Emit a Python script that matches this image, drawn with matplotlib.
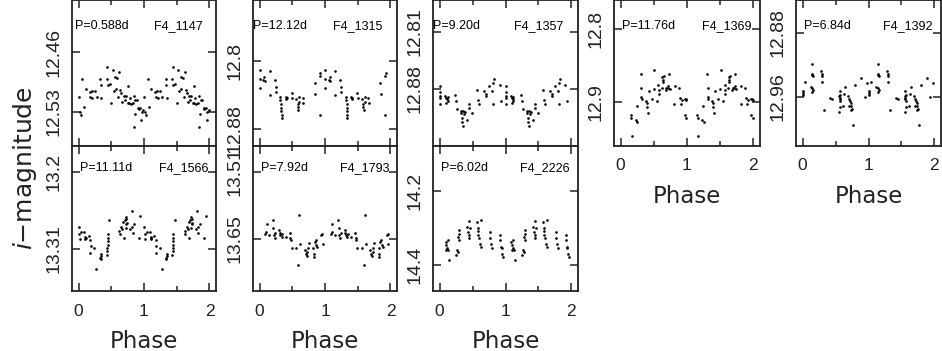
import matplotlib
matplotlib.use('Agg')
import matplotlib.pyplot as plt
from matplotlib import font_manager
import numpy as np

## phase-folded light curves, one period shown (0-1), drawn twice (0-2)
ph_1147 = [0.00,0.02,0.03,0.06,0.08,0.11,0.17,0.18,0.20,0.21,0.25,0.28,0.33,0.34,0.35,0.43,0.44,0.45,0.48,0.50,
           0.52,0.54,0.56,0.57,0.59,0.61,0.62,0.64,0.65,0.67,0.69,0.71,0.72,0.75,0.76,0.77,0.78,0.80,0.83,0.84,
           0.84,0.86,0.87,0.89,0.91,0.92,0.94,0.96,0.97,0.99]
mg_1147 = [12.513,12.530,12.534,12.492,12.524,12.503,12.507,12.513,12.505,12.514,12.505,12.513,12.491,12.499,12.514,
           12.492,12.478,12.499,12.497,12.520,12.481,12.506,12.489,12.503,12.490,12.513,12.483,12.504,12.508,12.518,
           12.511,12.516,12.511,12.520,12.500,12.520,12.514,12.521,12.520,12.511,12.548,12.532,12.516,12.516,12.525,
           12.527,12.526,12.540,12.530,12.528]

ph_1315 = [0.00,0.00,0.00,0.06,0.07,0.08,0.16,0.16,0.23,0.25,0.25,0.32,0.32,0.33,0.33,0.33,0.34,0.34,
           0.40,0.41,0.42,0.49,0.50,0.56,0.58,0.58,0.59,0.61,0.61,0.66,0.67,0.84,0.85,0.92,0.93,0.92]
mg_1315 = [12.811,12.821,12.832,12.822,12.819,12.824,12.812,12.840,12.822,12.831,12.836,12.842,12.846,12.850,12.855,
           12.859,12.863,12.867,12.842,12.845,12.843,12.838,12.843,12.845,12.850,12.854,12.857,12.848,12.842,12.844,
           12.849,12.826,12.839,12.818,12.814,12.863]

ph_1357 = [0.00,0.00,0.01,0.01,0.00,0.08,0.10,0.11,0.12,0.10,0.12,0.24,0.25,0.26,0.32,0.33,0.34,0.34,0.35,0.36,
           0.37,0.38,0.42,0.44,0.45,0.49,0.57,0.59,0.60,0.68,0.70,0.71,0.75,0.80,0.81,0.83,0.81,0.91,0.93]
mg_1357 = [12.884,12.891,12.877,12.889,12.899,12.889,12.891,12.892,12.890,12.897,12.895,12.888,12.895,12.905,12.907,
           12.910,12.916,12.920,12.926,12.907,12.911,12.908,12.918,12.903,12.899,12.909,12.881,12.893,12.899,12.883,
           12.886,12.889,12.877,12.883,12.873,12.868,12.898,12.875,12.895]

ph_1369 = [0.15,0.16,0.17,0.23,0.25,0.24,0.30,0.31,0.31,0.32,0.38,0.39,0.39,0.41,0.42,0.47,0.51,0.50,0.55,0.57,
           0.58,0.58,0.62,0.63,0.64,0.64,0.65,0.68,0.69,0.71,0.72,0.73,0.74,0.82,0.81,0.88,0.89,0.91,0.92,0.97,
           0.98,0.99,0.97,0.99]
mg_1369 = [12.917,12.921,12.946,12.924,12.927,12.905,12.861,12.880,12.893,12.896,12.898,12.901,12.907,12.915,12.884,
           12.896,12.856,12.882,12.898,12.876,12.883,12.889,12.880,12.865,12.869,12.872,12.864,12.883,12.881,12.880,
           12.878,12.862,12.882,12.878,12.903,12.880,12.894,12.903,12.897,12.895,12.896,12.897,12.917,12.922]

ph_1392 = [0.00,0.01,0.00,0.04,0.14,0.14,0.15,0.16,0.12,0.14,0.15,0.16,0.28,0.29,0.30,0.29,0.32,0.42,0.45,0.55,
           0.56,0.56,0.57,0.56,0.57,0.55,0.57,0.64,0.63,0.62,0.69,0.70,0.72,0.73,0.74,0.75,0.70,0.74,0.77,0.79,
           0.88,0.94,0.98]
mg_1392 = [12.952,12.955,12.957,12.941,12.919,12.932,12.931,12.934,12.948,12.949,12.954,12.951,12.928,12.931,12.934,
           12.941,12.976,12.961,12.962,12.959,12.961,12.963,12.965,12.953,12.957,12.979,12.972,12.947,12.956,12.971,
           12.959,12.963,12.965,12.968,12.971,12.975,12.971,12.976,12.995,12.945,12.936,12.960,12.943]

ph_1566 = [0.00,0.01,0.02,0.04,0.09,0.10,0.10,0.11,0.16,0.18,0.19,0.18,0.24,0.27,0.33,0.34,0.35,0.35,0.43,0.44,
           0.44,0.45,0.45,0.45,0.45,0.47,0.62,0.63,0.65,0.67,0.68,0.69,0.71,0.72,0.73,0.73,0.72,0.74,0.81,0.79,
           0.82,0.83,0.85,0.92,0.94]
mg_1566 = [13.279,13.289,13.296,13.286,13.286,13.293,13.296,13.295,13.292,13.297,13.306,13.316,13.309,13.339,13.323,
           13.325,13.320,13.317,13.318,13.313,13.309,13.304,13.299,13.294,13.289,13.269,13.285,13.288,13.279,13.281,
           13.272,13.294,13.268,13.265,13.267,13.275,13.280,13.273,13.256,13.281,13.279,13.287,13.275,13.294,13.263]

ph_1793 = [0.09,0.10,0.11,0.15,0.20,0.21,0.22,0.23,0.24,0.30,0.31,0.32,0.34,0.35,0.40,0.46,0.47,0.48,0.49,0.56,
           0.59,0.61,0.62,0.69,0.71,0.72,0.73,0.74,0.75,0.82,0.83,0.83,0.84,0.86,0.87,0.88,0.94,0.96,0.97]
mg_1793 = [13.639,13.635,13.619,13.642,13.611,13.628,13.642,13.649,13.637,13.632,13.637,13.642,13.646,13.639,13.646,
           13.637,13.649,13.653,13.670,13.670,13.704,13.600,13.660,13.674,13.681,13.685,13.678,13.670,13.659,13.670,
           13.681,13.688,13.656,13.653,13.663,13.668,13.642,13.639,13.660]

ph_2226 = [0.09,0.10,0.10,0.11,0.12,0.13,0.14,0.25,0.26,0.28,0.29,0.29,0.30,0.28,0.42,0.43,0.44,0.44,0.45,0.46,
           0.57,0.58,0.59,0.59,0.60,0.61,0.63,0.63,0.76,0.77,0.78,0.80,0.92,0.92,0.93,0.94,0.95,0.96]
mg_2226 = [14.337,14.346,14.358,14.355,14.333,14.360,14.385,14.373,14.360,14.324,14.306,14.317,14.333,14.364,14.297,
           14.310,14.319,14.281,14.328,14.301,14.283,14.299,14.308,14.319,14.328,14.342,14.279,14.351,14.310,14.328,
           14.342,14.355,14.319,14.333,14.351,14.355,14.369,14.379]

names = ['F4_1147', 'F4_1315', 'F4_1357', 'F4_1369', 'F4_1392', 'F4_1566', 'F4_1793', 'F4_2226']
periods = ['0.588', '12.12', '9.20', '11.76', '6.84', '11.11', '7.92', '6.02']
phases = [ph_1147, ph_1315, ph_1357, ph_1369, ph_1392, ph_1566, ph_1793, ph_2226]
mags = [mg_1147, mg_1315, mg_1357, mg_1369, mg_1392, mg_1566, mg_1793, mg_2226]
yticks = [[12.46, 12.53], [12.8, 12.88], [12.81, 12.88], [12.8, 12.9],
          [12.88, 12.96], [13.2, 13.31], [13.51, 13.65], [14.2, 14.4]]
ylims = [(12.570, 12.399), (12.900, 12.728), (12.950, 12.771), (12.960, 12.760),
         (13.021, 12.839), (13.370, 13.163), (13.759, 13.456), (14.470, 14.078)]

## layout (pixels: left, top, right, bottom)
W, H = 942, 351
boxes = [(72, 0, 216, 146), (253, 0, 397, 146), (433, 0, 578, 146), (614, 0, 760, 146), (796, 0, 941, 146),
         (72, 146, 216, 291), (253, 146, 397, 291), (433, 146, 578, 291)]
show_x = [False, False, False, True, True, True, True, True]
txt_left = [0.02, 0.0, 0.0, 0.055, 0.055, 0.055, 0.055, 0.055]
txt_right = [0.91, 0.90, 0.90, 0.945, 0.94, 0.95, 0.95, 0.94]

fonts = {f.name for f in font_manager.fontManager.ttflist}
narrow = 'Liberation Sans Narrow' if 'Liberation Sans Narrow' in fonts else 'Liberation Sans'

fig = plt.figure(figsize=(W / 100, H / 100), dpi=100)

for i in range(8):
    x0, y0, x1, y1 = boxes[i]
    ax = fig.add_axes([x0 / W, 1 - y1 / H, (x1 - x0) / W, (y1 - y0) / H])
    ph = np.array(phases[i])
    mg = np.array(mags[i])
    ax.plot(np.concatenate([ph, ph + 1]), np.concatenate([mg, mg]), 'o', ms=1.9, color='k', mec='none')
    ax.set_xlim(-0.1, 2.1)
    ax.set_ylim(*ylims[i])
    ax.set_xticks([0, 1, 2])
    ax.set_xticks([0.5, 1.5], minor=True)
    ax.set_yticks(yticks[i])
    ax.set_yticklabels([f'{v:g}' for v in yticks[i]], rotation=90, va='center',
                       fontsize=14, family=narrow, color='#222')
    if show_x[i]:
        ax.set_xticklabels(['0', '1', '2'], fontsize=12.5, family=narrow, color='#222')
        ax.set_xlabel('Phase', fontsize=16.5, va='baseline', color='#222')
        ## baseline of the label about 57 px under the axis
        ax.xaxis.set_label_coords(0.5, -57 / (y1 - y0))
    else:
        ax.set_xticklabels([])
    ax.tick_params(which='both', direction='in', top=True, right=True, width=1.1, color='#222')
    ax.tick_params(which='major', length=6)
    ax.tick_params(which='minor', length=3.5)
    ax.tick_params(axis='y', pad=7)
    ax.tick_params(axis='x', pad=9)
    for s in ax.spines.values():
        s.set_linewidth(1.3)
        s.set_color('#222')
    ty = 0.82 if y0 == 0 else 0.85
    ax.text(txt_left[i], ty, f'P={periods[i]}d', transform=ax.transAxes, fontsize=9,
            family='Liberation Sans', va='center', ha='left')
    ax.text(txt_right[i], ty, names[i], transform=ax.transAxes, fontsize=9,
            family='Liberation Sans', va='center', ha='right')

fig.text(25 / W, 1 - 168 / H, r'$i$' + '\u2212magnitude', rotation=90, fontsize=18,
         ha='center', va='center', color='#222')

fig.savefig('out.png', dpi=100)
